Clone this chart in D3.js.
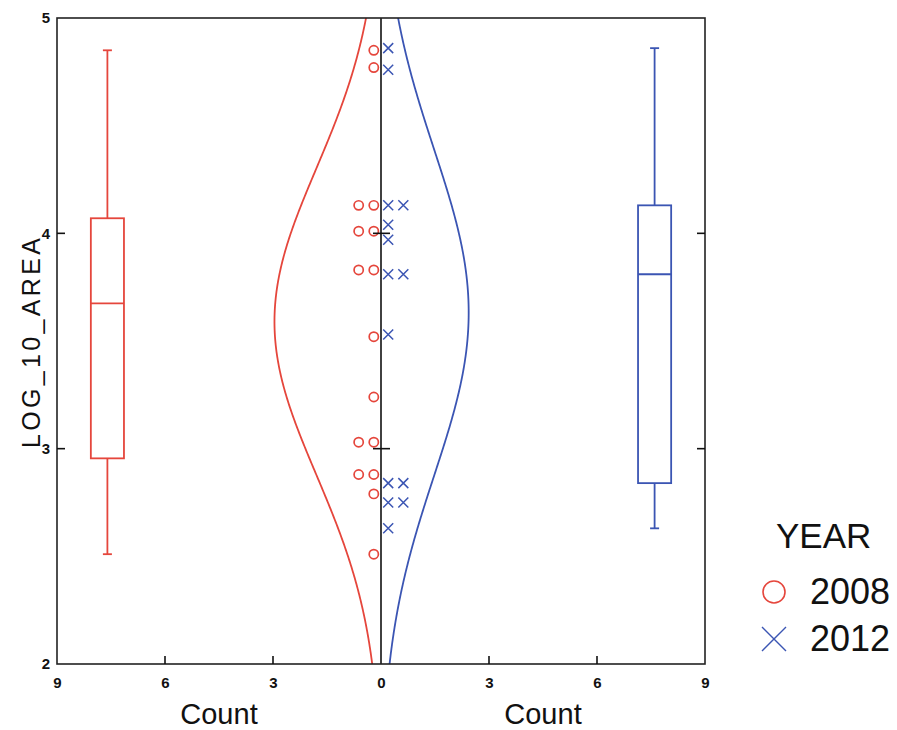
<!DOCTYPE html>
<html lang="en">
<head>
   <meta charset="UTF-8">
   <title>LOG_10_AREA by YEAR</title>
   <style>
      html, body {
         margin: 0;
         background: #fff;
         overflow: hidden;
      }
      text {
         font-family: "Liberation Sans", Arial, sans-serif;
         fill: #111;
      }
      .tick-label {
         font-family: "Liberation Sans Narrow", "Liberation Sans", sans-serif;
         font-size: 15px;
         font-weight: bold;
      }
      .frame {
         fill: none;
         stroke: #222;
         stroke-width: 1.6;
      }
   </style>
   <script src="https://cdn.jsdelivr.net/npm/d3@7"></script>
</head>
<body>
   <div class="chart"></div>
   <script>
      // data
      const years = ['2008', '2012']
      const area2008 = [4.85, 4.77, 4.13, 4.13, 4.01, 4.01, 3.83, 3.83, 3.52, 3.24, 3.03, 3.03, 2.88, 2.88, 2.79, 2.51]
      const area2012 = [4.86, 4.76, 4.13, 4.13, 4.04, 3.97, 3.81, 3.81, 3.53, 2.84, 2.84, 2.75, 2.75, 2.63]
      const yTicks = [2, 3, 4, 5]
      const countTicks = [-9, -6, -3, 0, 3, 6, 9]
      const colors = ['#e5463c', '#3b55b3']

      const BIN = 0.33        // bin width used to scale the normal curve to counts
      const BOX_AT = 7.6      // count position of each box plot
      const BOX_HALF = 0.46

      const W = 897, H = 730
      const frame = { left: 57, right: 705, top: 18, bottom: 664 }

      const svg = d3.select('.chart').append('svg')
         .attr('width', W)
         .attr('height', H)

      const x = d3.scaleLinear().domain([-9, 9]).range([frame.left, frame.right])
      const y = d3.scaleLinear().domain([2, 5]).range([frame.bottom, frame.top])

      svg.append('clipPath').attr('id', 'clip')
         .append('rect')
         .attr('x', frame.left).attr('y', frame.top)
         .attr('width', frame.right - frame.left)
         .attr('height', frame.bottom - frame.top)

      const series = [area2008, area2012]

      series.forEach((data, k) => {
         const side = k === 0 ? -1 : 1
         const color = colors[k]
         const g = svg.append('g').attr('clip-path', 'url(#clip)')

         // normal curve scaled to counts
         const mean = d3.mean(data)
         const sd = d3.deviation(data)
         const curve = d3.range(1.9, 5.11, 0.01).map(v => {
            const z = (v - mean) / sd
            const c = data.length * BIN * Math.exp(-z * z / 2) / (sd * Math.sqrt(2 * Math.PI))
            return [x(side * c), y(v)]
         })
         g.append('path')
            .attr('d', d3.line()(curve))
            .attr('fill', 'none')
            .attr('stroke', color)
            .attr('stroke-width', 1.8)

         // dot stacks
         const stacks = d3.groups(data, d => d)
         stacks.forEach(([v, items]) => {
            items.forEach((_, i) => {
               const cx = x(side * (0.2 + 0.42 * i))
               const cy = y(v)
               if (k === 0) {
                  g.append('circle')
                     .attr('cx', cx).attr('cy', cy).attr('r', 4.6)
                     .attr('fill', 'none')
                     .attr('stroke', color)
                     .attr('stroke-width', 1.7)
               } else {
                  const s = 5
                  g.append('path')
                     .attr('d', `M${cx - s},${cy - s}L${cx + s},${cy + s}M${cx - s},${cy + s}L${cx + s},${cy - s}`)
                     .attr('stroke', color)
                     .attr('stroke-width', 1.5)
               }
            })
         })

         // box plot (Tukey hinges)
         const sorted = data.slice().sort(d3.ascending)
         const n = sorted.length
         const half = Math.ceil(n / 2)
         const lo = d3.median(sorted.slice(0, n % 2 ? half : n / 2))
         const hi = d3.median(sorted.slice(n % 2 ? half - 1 : n / 2))
         const med = d3.median(sorted)
         const [mn, mx] = d3.extent(sorted)
         const bx = x(side * BOX_AT)
         const bw = x(BOX_HALF) - x(0)
         const box = svg.append('g')
            .attr('stroke', color)
            .attr('stroke-width', 1.8)
            .attr('fill', 'none')
         box.append('rect')
            .attr('x', bx - bw).attr('y', y(hi))
            .attr('width', bw * 2).attr('height', y(lo) - y(hi))
         box.append('line')
            .attr('x1', bx - bw).attr('x2', bx + bw)
            .attr('y1', y(med)).attr('y2', y(med))
         box.append('line')
            .attr('x1', bx).attr('x2', bx)
            .attr('y1', y(hi)).attr('y2', y(mx))
         box.append('line')
            .attr('x1', bx).attr('x2', bx)
            .attr('y1', y(lo)).attr('y2', y(mn))
         ;[mn, mx].forEach(v => {
            box.append('line')
               .attr('x1', bx - 4.5).attr('x2', bx + 4.5)
               .attr('y1', y(v)).attr('y2', y(v))
         })
      })

      // center line with its ticks
      svg.append('line')
         .attr('x1', x(0)).attr('x2', x(0))
         .attr('y1', frame.top).attr('y2', frame.bottom)
         .attr('stroke', '#111').attr('stroke-width', 1.6)
      yTicks.filter(t => t > 2 && t < 5).forEach(t => {
         svg.append('line')
            .attr('x1', x(0) - 8).attr('x2', x(0) + 9)
            .attr('y1', y(t)).attr('y2', y(t))
            .attr('stroke', '#111').attr('stroke-width', 1.6)
      })

      // frame
      svg.append('rect')
         .attr('class', 'frame')
         .attr('x', frame.left).attr('y', frame.top)
         .attr('width', frame.right - frame.left)
         .attr('height', frame.bottom - frame.top)

      // y axis, ticks inside on both sides
      const yAxisL = d3.axisLeft(y).tickValues(yTicks).tickSize(0).tickPadding(7).tickFormat(d3.format('d'))
      const yl = svg.append('g')
         .attr('transform', `translate(${frame.left}, 0)`)
         .call(yAxisL)
      yl.select('.domain').remove()
      yl.selectAll('text').attr('class', 'tick-label').attr('fill', '#111')

      yTicks.filter(t => t > 2 && t < 5).forEach(t => {
         svg.append('line')
            .attr('x1', frame.left).attr('x2', frame.left + 8)
            .attr('y1', y(t)).attr('y2', y(t))
            .attr('stroke', '#111').attr('stroke-width', 1.6)
         svg.append('line')
            .attr('x1', frame.right - 8).attr('x2', frame.right)
            .attr('y1', y(t)).attr('y2', y(t))
            .attr('stroke', '#111').attr('stroke-width', 1.6)
      })

      // count axis
      const xAxis = d3.axisBottom(x).tickValues(countTicks).tickSize(0).tickPadding(13)
         .tickFormat(d => Math.abs(d))
      const xa = svg.append('g')
         .attr('transform', `translate(0, ${frame.bottom})`)
         .call(xAxis)
      xa.select('.domain').remove()
      xa.selectAll('text').attr('class', 'tick-label').attr('fill', '#111')

      countTicks.filter(t => Math.abs(t) > 0 && Math.abs(t) < 9).forEach(t => {
         svg.append('line')
            .attr('x1', x(t)).attr('x2', x(t))
            .attr('y1', frame.bottom).attr('y2', frame.bottom - 8)
            .attr('stroke', '#111').attr('stroke-width', 1.6)
      })

      // axis titles
      ;[-4.5, 4.5].forEach(c => {
         svg.append('text')
            .attr('x', x(c)).attr('y', 724)
            .attr('text-anchor', 'middle')
            .style('font-size', '29px')
            .text('Count')
      })
      svg.append('text')
         .attr('transform', `translate(31, ${(frame.top + frame.bottom) / 2 + 2}) rotate(-90)`)
         .attr('dy', '0.35em')
         .attr('text-anchor', 'middle')
         .attr('textLength', 210)
         .attr('lengthAdjust', 'spacing')
         .style('font-size', '25px')
         .text('LOG_10_AREA')

      // legend
      const legend = svg.append('g')
      legend.append('text')
         .attr('x', 776).attr('y', 548)
         .style('font-size', '35px')
         .text('YEAR')
      years.forEach((yr, i) => {
         const cy = 592 + i * 47
         if (i === 0) {
            legend.append('circle')
               .attr('cx', 774).attr('cy', cy).attr('r', 11)
               .attr('fill', 'none')
               .attr('stroke', colors[i]).attr('stroke-width', 1.6)
         } else {
            const s = 12
            legend.append('path')
               .attr('d', `M${774 - s},${cy - s}L${774 + s},${cy + s}M${774 - s},${cy + s}L${774 + s},${cy - s}`)
               .attr('stroke', colors[i]).attr('stroke-width', 1.4)
         }
         legend.append('text')
            .attr('x', 810).attr('y', cy + 12)
            .style('font-size', '36px')
            .text(yr)
      })
   </script>
</body>
</html>
